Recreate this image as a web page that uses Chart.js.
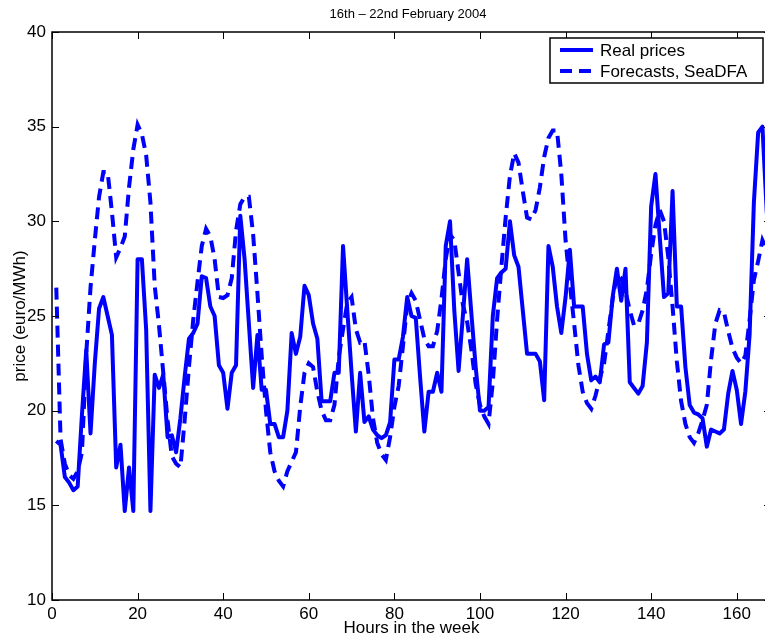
<!DOCTYPE html>
<html>
<head>
<meta charset="utf-8">
<script src="https://cdn.jsdelivr.net/npm/chart.js@4"></script>
<style>
  html, body { margin: 0; padding: 0; background: #fff; overflow: hidden; }
  #wrap { width: 776px; height: 639px; }
</style>
</head>
<body>
<div id="wrap"><canvas id="myChart"></canvas></div>
<script>
// hour index of each sample (1..168)
const hours = Array.from({ length: 168 }, (_, i) => i + 1);

const realPrices = [
    18.4, 18.2, 16.5, 16.2, 15.8, 16.0, 19.8, 23.2, 18.8, 22.5,
    25.4, 26.0, 25.0, 24.0, 17.0, 18.2, 14.7, 17.0, 14.7, 28.0,
    28.0, 24.3, 14.7, 21.9, 21.2, 21.9, 18.6, 18.7, 17.8, 19.6,
    21.8, 23.8, 24.1, 24.6, 27.1, 27.0, 25.5, 25.0, 22.4, 22.0,
    20.1, 22.0, 22.4, 30.3, 28.0, 24.6, 21.2, 24.0, 21.1, 21.1,
    19.3, 19.3, 18.6, 18.6, 20.0, 24.1, 23.0, 23.9, 26.6, 26.1,
    24.6, 23.8, 20.5, 20.5, 20.5, 22.0, 22.0, 28.7, 25.3, 22.0,
    18.9, 22.0, 19.4, 19.7, 19.0, 18.7, 18.55, 18.7, 19.4, 22.7,
    22.7, 23.9, 26.0, 25.0, 24.9, 21.8, 18.9, 21.0, 21.0, 22.0,
    21.0, 28.7, 30.0, 25.3, 22.1, 25.0, 28.0, 25.1, 22.3, 20.0,
    20.0, 20.2, 25.0, 27.0, 27.3, 27.5, 30.0, 28.2, 27.6, 25.3,
    23.0, 23.0, 23.0, 22.6, 20.55, 28.7, 27.6, 25.5, 24.1, 26.0,
    28.5, 25.5, 25.5, 25.5, 23.0, 21.6, 21.8, 21.5, 23.5, 23.6,
    26.0, 27.5, 25.8, 27.5, 21.5, 21.2, 20.9, 21.3, 23.6, 30.8,
    32.5, 29.2, 26.0, 26.2, 31.6, 25.5, 25.5, 22.3, 20.3, 19.9,
    19.8, 19.6, 18.1, 19.0, 18.9, 18.8, 19.0, 20.9, 22.1, 21.1,
    19.3, 21.0, 24.0, 31.0, 34.7, 35.0, 30.5, 28.0
];

const forecasts = [
    26.5, 18.5, 17.2, 16.6, 16.4, 16.8, 17.8, 23.0, 26.5, 29.0,
    31.3, 32.6, 32.6, 30.5, 28.1, 28.6, 29.2, 31.8, 33.8, 35.1,
    34.6, 33.5, 31.0, 26.6, 24.5, 22.0, 19.5, 17.6, 17.2, 17.0,
    19.5, 22.3, 24.8, 26.8, 28.7, 29.6, 29.2, 28.0, 26.0, 25.95,
    26.1, 27.0, 29.5, 30.9, 31.3, 31.3, 29.3, 26.2, 22.9, 20.0,
    17.8, 16.8, 16.3, 16.0, 16.8, 17.3, 17.8, 20.2, 22.0, 22.5,
    22.3, 21.0, 20.0, 19.5, 19.5, 20.3, 22.8, 24.3, 25.7, 26.0,
    24.3, 23.6, 23.7, 21.9, 19.6, 18.3, 17.7, 17.4, 18.6, 20.2,
    21.3, 23.4, 25.6, 26.2, 25.8, 24.8, 23.8, 23.4, 23.4, 24.2,
    25.9, 28.0, 29.3, 29.0, 27.3, 25.6, 24.7, 23.2, 21.4, 20.3,
    19.7, 19.3, 21.5, 24.8, 27.6, 30.2, 32.4, 33.6, 33.1, 31.6,
    30.2, 30.1, 30.6, 31.8, 33.4, 34.4, 34.8, 34.8, 32.5, 29.0,
    26.7, 24.6, 22.4, 21.0, 20.4, 20.1, 20.8, 21.7, 22.5, 24.2,
    25.9, 27.2, 27.0, 26.3, 25.3, 24.5, 24.6, 25.3, 26.4, 28.3,
    29.8, 30.6, 30.0, 28.1, 25.5, 22.6, 20.5, 19.3, 18.6, 18.3,
    18.8, 19.5, 20.3, 22.7, 24.6, 25.3, 25.2, 24.2, 23.3, 22.8,
    22.5, 22.9, 24.8, 26.9, 27.9, 29.0, 28.5, 27.5
];

const xTicks = [0, 20, 40, 60, 80, 100, 120, 140, 160];
const yTicks = [10, 15, 20, 25, 30, 35, 40];
const seriesNames = ['Real prices', 'Forecasts, SeaDFA'];
const chartTitle = '16th \u2013 22nd February 2004';

const FONT = '"Liberation Sans", Arial, sans-serif';
const BLUE = '#0000ff';

// axes box with inward ticks, like matlab
const boxPlugin = {
    id: 'boxPlugin',
    afterDraw(chart) {
        const { ctx, chartArea: a, scales } = chart;
        ctx.save();
        ctx.strokeStyle = '#000';
        ctx.lineWidth = 1.5;
        ctx.strokeRect(a.left, a.top, a.right - a.left, a.bottom - a.top);
        ctx.lineWidth = 1;
        ctx.beginPath();
        xTicks.forEach(v => {
            const px = Math.round(scales.x.getPixelForValue(v)) + 0.5;
            ctx.moveTo(px, a.bottom); ctx.lineTo(px, a.bottom - 7);
            ctx.moveTo(px, a.top); ctx.lineTo(px, a.top + 7);
        });
        yTicks.forEach(v => {
            const py = Math.round(scales.y.getPixelForValue(v)) + 0.5;
            ctx.moveTo(a.left, py); ctx.lineTo(a.left + 7, py);
            ctx.moveTo(a.right, py); ctx.lineTo(a.right - 7, py);
        });
        ctx.stroke();
        ctx.restore();
    }
};

const titlePlugin = {
    id: 'titlePlugin',
    afterDraw(chart) {
        const { ctx } = chart;
        ctx.save();
        ctx.font = '13px ' + FONT;
        ctx.fillStyle = '#000';
        ctx.textAlign = 'center';
        ctx.textBaseline = 'middle';
        ctx.fillText(chartTitle, 408, 14);
        ctx.restore();
    }
};

const legendPlugin = {
    id: 'legendPlugin',
    afterDraw(chart) {
        const { ctx } = chart;
        const x0 = 550, y0 = 38, w = 213, h = 45;
        ctx.save();
        ctx.fillStyle = '#fff';
        ctx.fillRect(x0, y0, w, h);
        ctx.strokeStyle = '#000';
        ctx.lineWidth = 1.5;
        ctx.strokeRect(x0, y0, w, h);
        chart.data.datasets.forEach((ds, i) => {
            const yy = y0 + 12 + i * 21;
            ctx.strokeStyle = ds.borderColor;
            ctx.lineWidth = ds.borderWidth;
            ctx.setLineDash(ds.borderDash || []);
            ctx.beginPath();
            ctx.moveTo(x0 + 10, yy);
            ctx.lineTo(x0 + 43, yy);
            ctx.stroke();
            ctx.setLineDash([]);
            ctx.fillStyle = '#000';
            ctx.font = '17px ' + FONT;
            ctx.textBaseline = 'middle';
            ctx.fillText(ds.label, x0 + 50, yy + 1);
        });
        ctx.restore();
    }
};

let ct1 = document.getElementById('myChart').getContext('2d');

let myChart = new Chart(ct1, {
    type: 'line',
    data: {
        datasets: [
            {
                label: seriesNames[0],
                data: realPrices.map((v, i) => ({ x: hours[i], y: v })),
                borderColor: BLUE,
                borderWidth: 4,
                borderJoinStyle: 'round',
                pointRadius: 0,
                tension: 0
            },
            {
                label: seriesNames[1],
                data: forecasts.map((v, i) => ({ x: hours[i], y: v })),
                borderColor: BLUE,
                borderWidth: 4,
                borderDash: [12, 7],
                pointRadius: 0,
                tension: 0
            }
        ]
    },
    options: {
        responsive: true,
        maintainAspectRatio: false,
        animation: false,
        layout: {
            padding: { top: 32, right: 5, left: 0, bottom: 0 }
        },
        plugins: {
            legend: { display: false },
            title: { display: false },
            tooltip: { enabled: false }
        },
        scales: {
            x: {
                type: 'linear',
                min: 0,
                max: 168,
                afterBuildTicks: s => { s.ticks = xTicks.map(v => ({ value: v })); },
                afterFit: s => { s.height = 39; },
                grid: { display: false, drawTicks: false },
                border: { display: false },
                ticks: {
                    padding: 4,
                    maxRotation: 0,
                    color: '#000',
                    font: { family: FONT, size: 17 }
                },
                title: {
                    display: true,
                    text: 'Hours in the week',
                    color: '#000',
                    padding: { top: 0, bottom: 0 },
                    font: { family: FONT, size: 17 }
                }
            },
            y: {
                type: 'linear',
                min: 10,
                max: 40,
                afterBuildTicks: s => { s.ticks = yTicks.map(v => ({ value: v })); },
                afterFit: s => { s.width = 52; },
                grid: { display: false, drawTicks: false },
                border: { display: false },
                ticks: {
                    padding: 6,
                    color: '#000',
                    font: { family: FONT, size: 17 }
                },
                title: {
                    display: true,
                    text: 'price (euro/MWh)',
                    color: '#000',
                    padding: { top: 10, bottom: 0 },
                    font: { family: FONT, size: 17 }
                }
            }
        }
    },
    plugins: [boxPlugin, titlePlugin, legendPlugin]
});
</script>
</body>
</html>
